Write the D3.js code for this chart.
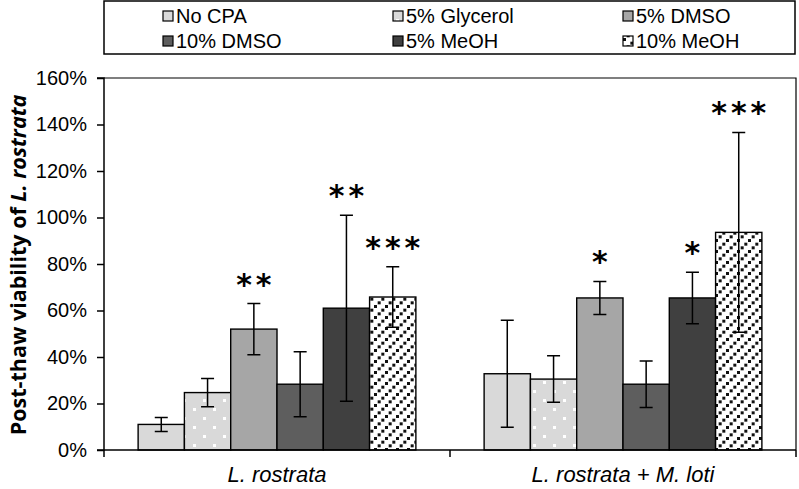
<!DOCTYPE html>
<html>
<head>
<meta charset="utf-8">
<script src="https://cdn.jsdelivr.net/npm/d3@7"></script>
<style>
  html, body { margin: 0; padding: 0; background: #fff; }
  svg { display: block; }
</style>
</head>
<body>
<script>
// ---- data ----
const groups = ["L. rostrata", "L. rostrata + M. loti"];
const seriesNames = ["No CPA", "5% Glycerol", "5% DMSO", "10% DMSO", "5% MeOH", "10% MeOH"];
const values = [
  [0.11, 0.247, 0.52, 0.283, 0.61, 0.658],
  [0.328, 0.305, 0.654, 0.283, 0.654, 0.936]
];
const errors = [
  [0.03, 0.061, 0.11, 0.14, 0.40, 0.13],
  [0.23, 0.10, 0.071, 0.10, 0.111, 0.43]
];
const stars = [
  ["", "", "**", "", "**", "***"],
  ["", "", "*", "", "*", "***"]
];
const yTicks = [0, 0.2, 0.4, 0.6, 0.8, 1.0, 1.2, 1.4, 1.6];

// ---- layout ----
const W = 799, H = 489;
const plot = { left: 104, right: 796, top: 78, bottom: 450 };

const svg = d3.select("body").append("svg").attr("width", W).attr("height", H);
const defs = svg.append("defs");

// patterns
const pDots = defs.append("pattern").attr("id", "pDots")
  .attr("patternUnits", "userSpaceOnUse").attr("width", 20).attr("height", 18);
pDots.append("rect").attr("width", 20).attr("height", 18).attr("fill", "#d9d9d9");
pDots.append("rect").attr("x", 3).attr("y", 3).attr("width", 3).attr("height", 3).attr("fill", "#fff");
pDots.append("rect").attr("x", 13).attr("y", 12).attr("width", 3).attr("height", 3).attr("fill", "#fff");

const pDiag = defs.append("pattern").attr("id", "pDiag")
  .attr("patternUnits", "userSpaceOnUse").attr("width", 11).attr("height", 11);
pDiag.append("rect").attr("width", 11).attr("height", 11).attr("fill", "#fff");
[[0, 8], [3.67, 4.33], [7.33, 0.67]].forEach(([px, py]) => {
  pDiag.append("rect").attr("x", px).attr("y", py).attr("width", 3).attr("height", 3).attr("fill", "#111");
});

const fills = ["#d9d9d9", "url(#pDots)", "#a6a6a6", "#5e5e5e", "#404040", "url(#pDiag)"];

// scales
const x0 = d3.scaleBand().domain(groups).range([plot.left, plot.right]).padding(0);
const x1 = d3.scaleBand().domain(seriesNames).range([0, x0.bandwidth()])
  .paddingInner(0).paddingOuter(0.737);
const y = d3.scaleLinear().domain([0, 1.6]).range([plot.bottom, plot.top]);

// plot border (top & right)
svg.append("path")
  .attr("d", `M${plot.left},${plot.top}H${plot.right}V${plot.bottom}`)
  .attr("fill", "none").attr("stroke", "#000").attr("stroke-width", 1.2);

// bars
const rows = [];
groups.forEach((g, gi) => seriesNames.forEach((s, si) => {
  rows.push({ g, s, si, v: values[gi][si], e: errors[gi][si], star: stars[gi][si] });
}));

const barG = svg.append("g");
barG.selectAll("rect").data(rows).join("rect")
  .attr("x", d => x0(d.g) + x1(d.s))
  .attr("y", d => y(d.v))
  .attr("width", x1.bandwidth())
  .attr("height", d => y(0) - y(d.v))
  .attr("fill", d => fills[d.si])
  .attr("stroke", "#000").attr("stroke-width", 1.4);

// error bars
const eb = svg.append("g").attr("stroke", "#000").attr("stroke-width", 1.5).attr("fill", "none");
const cx = d => x0(d.g) + x1(d.s) + x1.bandwidth() / 2;
eb.selectAll("path").data(rows).join("path")
  .attr("d", d => {
    const c = cx(d), hi = y(d.v + d.e), lo = y(d.v - d.e), cw = 6.5;
    return `M${c},${hi}V${lo}M${c - cw},${hi}H${c + cw}M${c - cw},${lo}H${c + cw}`;
  });

// significance stars
svg.append("g").selectAll("text").data(rows.filter(d => d.star)).join("text")
  .attr("x", d => cx(d) + 2)
  .attr("y", d => y(d.v + d.e) - 9)
  .attr("text-anchor", "middle")
  .attr("font-family", "DejaVu Sans, sans-serif")
  .attr("font-weight", "bold")
  .attr("font-size", 30)
  .attr("letter-spacing", 4)
  .attr("fill", "#000")
  .text(d => d.star);

// y axis
const yAxis = d3.axisLeft(y).tickValues(yTicks).tickFormat(d3.format(".0%")).tickSize(7).tickPadding(10);
const ya = svg.append("g").attr("transform", `translate(${plot.left},0)`).call(yAxis);
ya.select(".domain").attr("stroke-width", 1.5).attr("d", `M-7,${plot.top}H0V${plot.bottom}H-7`);
ya.selectAll(".tick line").attr("stroke-width", 1.5);
ya.selectAll(".tick text").attr("font-family", "Liberation Sans, Arial, sans-serif")
  .attr("font-size", 20).attr("fill", "#000");

// x axis
const xa = svg.append("g").attr("transform", `translate(0,${plot.bottom})`);
xa.append("line").attr("x1", plot.left).attr("x2", plot.right).attr("stroke", "#000").attr("stroke-width", 1.5);
const bounds = [plot.left, ...groups.map(g => x0(g) + x0.bandwidth())];
xa.selectAll(".xt").data(bounds).join("line").attr("class", "xt")
  .attr("x1", d => d).attr("x2", d => d).attr("y1", 0).attr("y2", 7)
  .attr("stroke", "#000").attr("stroke-width", 1.5);
xa.selectAll(".xl").data(groups).join("text").attr("class", "xl")
  .attr("x", d => x0(d) + x0.bandwidth() / 2)
  .attr("y", 32)
  .attr("text-anchor", "middle")
  .attr("font-family", "Liberation Sans, Arial, sans-serif")
  .attr("font-style", "italic")
  .attr("font-size", 22)
  .text(d => d);

// y title
const yt = svg.append("text")
  .attr("transform", `translate(26,${(plot.top + plot.bottom) / 2 + 1}) rotate(-90)`)
  .attr("text-anchor", "middle")
  .attr("font-family", "Open Sans, sans-serif")
  .attr("font-weight", "bold")
  .attr("font-size", 21.5);
yt.append("tspan").text("Post-thaw viability of ");
yt.append("tspan").attr("font-style", "italic").text("L. rostrata");

// legend
const lg = svg.append("g");
lg.append("rect").attr("x", 104).attr("y", 1).attr("width", 691).attr("height", 53)
  .attr("fill", "#fff").attr("stroke", "#000").attr("stroke-width", 1.5);
const colX = [163, 393, 623];
const rowY = [16, 41];
const li = lg.selectAll("g.li").data(seriesNames).join("g").attr("class", "li")
  .attr("transform", (d, i) => `translate(${colX[i % 3]},${rowY[Math.floor(i / 3)]})`);
li.append("rect").attr("x", 0).attr("y", -5).attr("width", 10).attr("height", 10)
  .attr("fill", (d, i) => fills[i]).attr("stroke", "#000").attr("stroke-width", 1.2);
li.append("text").attr("x", 13).attr("y", 7)
  .attr("font-family", "Liberation Sans, Arial, sans-serif")
  .attr("font-size", 20)
  .text(d => d);
</script>
</body>
</html>
